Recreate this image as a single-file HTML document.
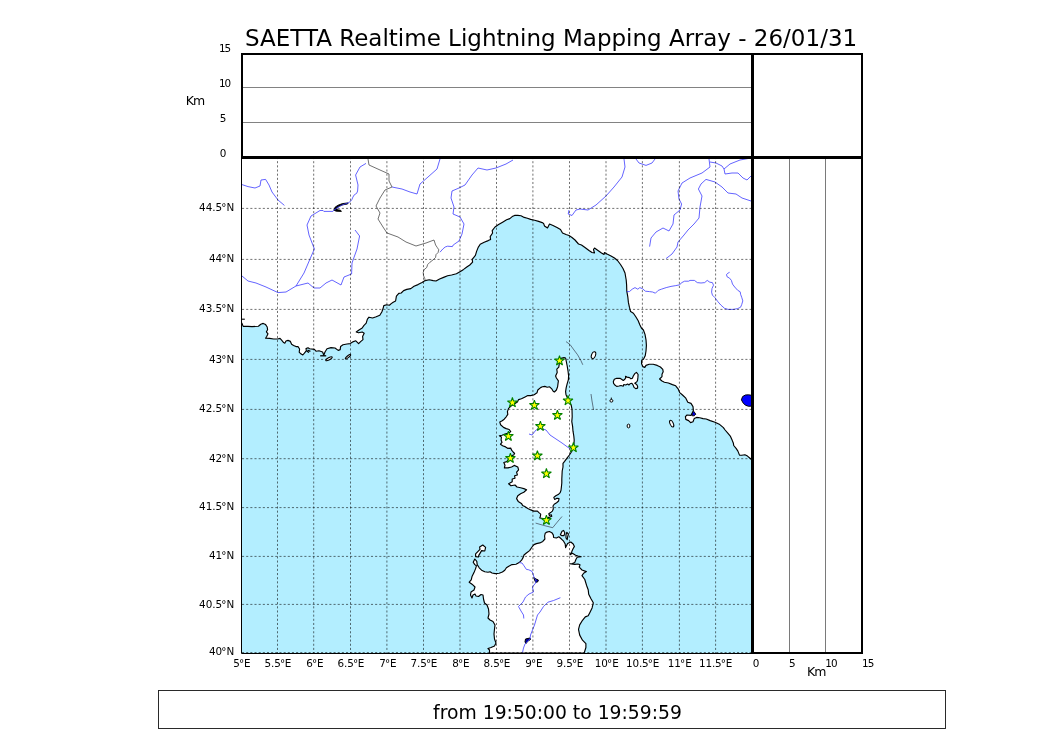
<!DOCTYPE html>
<html lang="en"><head><meta charset="utf-8"><title>SAETTA Realtime Lightning Mapping Array</title>
<style>
html,body{margin:0;padding:0;background:#fff;}
body{width:1050px;height:750px;overflow:hidden;}
svg{display:block;}
text{font-family:"DejaVu Sans","Liberation Sans",sans-serif;fill:#000;}
.t{font-size:10.4px;}
</style></head><body>
<svg width="1050" height="750" viewBox="0 0 1050 750">
<rect width="1050" height="750" fill="#fff"/>
<defs><clipPath id="mc"><rect x="242" y="157" width="510" height="496"/></clipPath></defs>

<g clip-path="url(#mc)">
<rect x="242" y="157" width="510" height="496" fill="#b3eeff"/>
<polygon points="241,322.4 242,323.4 243.2,326.4 248,326.4 252,326.6 258.4,326.2 260.8,324.2 263.2,323.4 265.6,324.6 267.2,327 267.6,329.8 266.4,331.8 268,333.8 266.8,336.2 265.6,338.2 269.6,338.4 273.6,339 277.6,339 280,338.4 281.6,340.2 283.6,342.6 284.8,343.2 286,341 288,340.4 290.4,341.4 291.6,344.2 293.6,345.4 296,346.6 298,346.6 299.6,349 299.2,352.2 300.8,353.8 302.8,355 304.8,352.6 306.4,350.6 306,348.6 308,347.8 309.6,348.8 314.4,349.4 316,351.2 319,350.8 322.6,352 323.8,355.2 325,352 327,348.8 331,347.6 335,348 338.2,350.4 340.2,349.6 340.6,346.4 343,344.8 347,344 350.2,343.6 353.4,341.6 355.8,340.8 358.6,343.6 360.6,341.6 363,339.6 362.6,336.4 364.2,333.2 362.2,332 358.6,332.8 356.2,332 359,330 362.2,328 363.8,325.6 366.2,323.2 367.4,319.2 369,317.2 372.6,318 376.2,316.8 379.8,315.2 381.8,312 383,308.8 383.8,305.6 386.6,304.8 389.4,305.2 391.5,303.4 393.2,302.2 395.6,301 396.4,296.2 398.8,293.4 401.2,293 403.6,290.6 406.8,289.4 410.8,288.6 414,286.2 418,284.6 422,282.6 425.2,280.6 429.2,279.8 433.2,280.6 436,281 439.6,279 443.6,277.4 447.6,275.8 451.6,275 456.4,273.8 460.4,271.4 463.6,269.4 466.8,267 469.8,265 472.6,262.2 472.2,259.4 475.4,255.4 476.6,251.4 478.2,247.4 480.2,244.2 484.2,242.2 488.2,240.6 490.6,239.4 490.2,236.6 492.6,233 492.2,230.6 495,227 498.6,224.6 502.6,222.2 506.6,219.8 509.8,218.6 512.2,216.6 514.6,215.4 517.8,215.4 521,215.8 524.2,217.4 527.4,218.2 530.6,219.4 534.6,220.2 538.6,221.4 542.2,222.6 543.6,223.4 544.5,226 547.5,228 549.5,224 553,225.5 557,227.5 560.5,229.5 562.5,233 566,234.5 569,235.5 572,237.5 575,240 578.5,244 581.5,245 585,247.5 589,250.5 592,252.5 594.5,253 593.5,249.5 594.5,248 598,250.5 601.5,253 604,254.5 604.5,252.5 607,254 611,256 614.5,258 617.5,260.5 620.5,264.5 623,268.5 625,273 626.2,280 626.6,284.8 626.8,291.2 627.8,296.8 628.4,302.4 629.4,307.2 630.6,311.6 633.4,313.2 635.8,316.8 638.2,320.8 639.8,324.8 641.4,328 643.4,330 645,334.4 646,339.8 646.4,345.4 646,351 645.2,355.8 643.6,359 641.6,360.6 641.6,363.8 642.8,366.6 644.8,367.4 646,365.4 649.2,364.2 653.2,364.2 657.2,365.4 660.4,367 662.8,369.4 663.2,371.8 662,374.2 662,376.6 659.6,379 662,381 664.4,382.2 668.4,383 672.4,384.6 675.7,385.8 678.1,388.8 679.7,392.6 682.5,395 685.8,398.2 687.8,402.2 691,403.4 693,406.6 693.4,410.6 692.2,413 691,415.4 687,415 685.4,416.6 685.8,419.4 688.6,420.6 690.6,422.6 693,421.8 694.2,418.6 696.6,417.4 699.8,417.8 703,418.6 706.2,419 710.2,420.6 715,422.2 719.8,424.6 723.4,427.6 725.1,430 727.8,433.2 730.5,436.4 732.1,440.1 733.4,443.3 733.7,445.5 736.1,448.4 737.9,451.1 739.5,455.1 741.7,455.3 744.9,454.8 747.5,456.1 749.7,458 753,461 752,157 242,157" fill="#fff"/>
<polyline points="241,322.4 242,323.4 243.2,326.4 248,326.4 252,326.6 258.4,326.2 260.8,324.2 263.2,323.4 265.6,324.6 267.2,327 267.6,329.8 266.4,331.8 268,333.8 266.8,336.2 265.6,338.2 269.6,338.4 273.6,339 277.6,339 280,338.4 281.6,340.2 283.6,342.6 284.8,343.2 286,341 288,340.4 290.4,341.4 291.6,344.2 293.6,345.4 296,346.6 298,346.6 299.6,349 299.2,352.2 300.8,353.8 302.8,355 304.8,352.6 306.4,350.6 306,348.6 308,347.8 309.6,348.8 314.4,349.4 316,351.2 319,350.8 322.6,352 323.8,355.2 325,352 327,348.8 331,347.6 335,348 338.2,350.4 340.2,349.6 340.6,346.4 343,344.8 347,344 350.2,343.6 353.4,341.6 355.8,340.8 358.6,343.6 360.6,341.6 363,339.6 362.6,336.4 364.2,333.2 362.2,332 358.6,332.8 356.2,332 359,330 362.2,328 363.8,325.6 366.2,323.2 367.4,319.2 369,317.2 372.6,318 376.2,316.8 379.8,315.2 381.8,312 383,308.8 383.8,305.6 386.6,304.8 389.4,305.2 391.5,303.4 393.2,302.2 395.6,301 396.4,296.2 398.8,293.4 401.2,293 403.6,290.6 406.8,289.4 410.8,288.6 414,286.2 418,284.6 422,282.6 425.2,280.6 429.2,279.8 433.2,280.6 436,281 439.6,279 443.6,277.4 447.6,275.8 451.6,275 456.4,273.8 460.4,271.4 463.6,269.4 466.8,267 469.8,265 472.6,262.2 472.2,259.4 475.4,255.4 476.6,251.4 478.2,247.4 480.2,244.2 484.2,242.2 488.2,240.6 490.6,239.4 490.2,236.6 492.6,233 492.2,230.6 495,227 498.6,224.6 502.6,222.2 506.6,219.8 509.8,218.6 512.2,216.6 514.6,215.4 517.8,215.4 521,215.8 524.2,217.4 527.4,218.2 530.6,219.4 534.6,220.2 538.6,221.4 542.2,222.6 543.6,223.4 544.5,226 547.5,228 549.5,224 553,225.5 557,227.5 560.5,229.5 562.5,233 566,234.5 569,235.5 572,237.5 575,240 578.5,244 581.5,245 585,247.5 589,250.5 592,252.5 594.5,253 593.5,249.5 594.5,248 598,250.5 601.5,253 604,254.5 604.5,252.5 607,254 611,256 614.5,258 617.5,260.5 620.5,264.5 623,268.5 625,273 626.2,280 626.6,284.8 626.8,291.2 627.8,296.8 628.4,302.4 629.4,307.2 630.6,311.6 633.4,313.2 635.8,316.8 638.2,320.8 639.8,324.8 641.4,328 643.4,330 645,334.4 646,339.8 646.4,345.4 646,351 645.2,355.8 643.6,359 641.6,360.6 641.6,363.8 642.8,366.6 644.8,367.4 646,365.4 649.2,364.2 653.2,364.2 657.2,365.4 660.4,367 662.8,369.4 663.2,371.8 662,374.2 662,376.6 659.6,379 662,381 664.4,382.2 668.4,383 672.4,384.6 675.7,385.8 678.1,388.8 679.7,392.6 682.5,395 685.8,398.2 687.8,402.2 691,403.4 693,406.6 693.4,410.6 692.2,413 691,415.4 687,415 685.4,416.6 685.8,419.4 688.6,420.6 690.6,422.6 693,421.8 694.2,418.6 696.6,417.4 699.8,417.8 703,418.6 706.2,419 710.2,420.6 715,422.2 719.8,424.6 723.4,427.6 725.1,430 727.8,433.2 730.5,436.4 732.1,440.1 733.4,443.3 733.7,445.5 736.1,448.4 737.9,451.1 739.5,455.1 741.7,455.3 744.9,454.8 747.5,456.1 749.7,458 753,461" fill="none" stroke="#000" stroke-width="1.15" stroke-linejoin="round"/>
<polygon points="564,357.6 565.6,358 566.4,362 567.2,366 568,370.8 568.6,375.6 568.4,379.6 567.2,383.6 566.2,387.6 565.6,391.6 566,394.8 567.2,397.2 569.2,401.2 571.2,405.2 572,409.2 572.2,416.8 571.8,421.6 572.6,426.4 573,431.2 573.8,436 574.2,440 573.8,446 572,451 569.4,455 567,458.2 564.6,461.4 563,463.4 563,467 562.2,471 562,475 561.8,479 561.8,483 561.4,487 561,490.2 560.2,492.6 558.2,494.6 555.8,495.8 553.8,497.4 554.6,499.4 557,498.2 559,498.6 558.6,501 556.6,502.7 554.2,504.2 553,506 553.3,509 552.4,511.1 550.6,512.6 548.8,513.8 549.4,515.6 551.2,514.7 551.8,516.2 550,517.1 548.2,517.4 546,519 541.6,518.3 539.8,518 540.4,516.2 540.7,514.1 539.2,512.9 537.4,511.1 533.8,511.1 530.8,509.9 527.8,508.4 524.8,506.6 522.6,505.4 521.4,503.4 518.2,501.4 516.6,498.6 517.8,495.8 520.6,493.8 523.8,492.2 526.6,489.8 523.8,488.6 520.6,487.8 517,487 515,485 511,485.8 508.6,483.8 512.2,481.8 512.2,479 515,478.2 514.6,475.8 517.4,475 516.6,472.2 518.6,469.8 517.8,467 514.2,465.4 511.6,467 508,467.9 504.4,467.9 505,465.2 503.8,462.5 506.8,461.6 509,458.5 511.6,455.6 513.7,455 514.6,453.5 513.1,452 511.6,450.2 510.7,448.1 508,448.4 505.6,446.9 502.6,445.7 500.5,444.2 502,442.4 501.1,440 501.4,437 499.3,435.8 502,435.2 505,434 509.2,432.8 510.7,431.6 509.2,429.5 506.2,428.6 503.5,427.4 500.6,424.8 499.8,422 502.2,420.8 504.2,419.2 506.2,416.8 507.8,414.4 507.4,411.6 508.6,408.4 511,406 514.2,404 517.4,402 518.6,399.6 521.4,398.8 524.6,397.2 527.8,395.6 530.6,395.6 534.2,394.8 537,392.8 537.8,390 540.6,387.6 542.4,386.8 544.8,386.4 547.2,387.2 549.6,386.8 552,389.2 553.2,391.2 554.4,392 556.4,390 557.6,386.8 558,383.6 558.4,380.8 556.4,378 555.6,376 557.2,372.4 556.8,369.2 558.8,367.2 559.2,364.4 560,358.6 564,357.6" fill="#fff" stroke="#000" stroke-width="1.15" stroke-linejoin="round"/>
<polygon points="474.8,559 476.8,561.4 477.2,564.6 479.2,567.8 481.6,570.2 484.8,571.8 488,572.2 490,571.8 492,573 495.2,573.6 499.2,573.2 502.4,572 504.8,570.2 506.4,567.8 508.8,566.2 512,564.6 516,564.2 519.2,562.6 521.6,560.2 523.2,557.4 524,555 526.4,553 529.6,550.6 532,547 534,544.6 536.4,543.6 539.8,542.9 542.8,541.4 544.9,539 544.6,536 545.2,533.3 547,532.1 549.4,531.5 551.8,532.7 553.3,534.8 553.6,537.5 556.4,538 558.8,536.8 561.2,538.8 563.6,541.2 565.2,544 565.6,547.6 567.6,543.6 570.8,542 573.2,544 574.4,546.4 572.8,549.2 571.6,552 570,554.8 572.4,553.2 575.6,555.2 578,556 581.2,556.8 577.2,557.2 576,559.2 574.8,562.4 572.4,563.6 569.6,563.8 574.8,564.4 578,564 580,564.8 579.2,567.2 582,570 586.4,571.6 583.6,573.2 582,575.6 584.8,579.5 586.5,585.2 588.2,589.7 588.7,594.3 591,598.8 593.3,602.8 592.1,607.9 589.9,612.4 588.2,615.8 585.3,616.9 582.5,620.3 579.7,624.9 578.5,629.4 579.7,635.1 582.5,640.2 585.9,643.6 585.9,647.5 584.2,653 489.5,653 489.5,650 488,648.5 491,647.5 494.5,646 496,643 494.5,639 494,634 494.5,629 495,625 493,621.5 490,620 488,618 489,614 488.5,609 487,605 484.5,603 483.5,599 483,595 481,594.5 478.5,596.5 476,596 475,594 473,595 472,598 470.5,595 471,592 474,590 475,587 472,584.2 469.2,582.2 471.2,579.8 472,576.6 474,572.6 475.6,568.6 476.4,565.8 474.8,564.6 473.2,562.2" fill="#fff" stroke="#000" stroke-width="1.15" stroke-linejoin="round"/>
<polygon points="613.3,381.7 614.3,379.3 616.7,378.3 620,378.3 621.9,379.5 623.3,380.5 624.8,379.3 625.7,377.9 625.5,376.4 627.1,377.1 629.5,377.6 631,378.8 632.4,378.3 633.3,376 634.8,373.6 636.4,372.4 638.1,374.5 637.9,377.4 637.6,380.2 636.7,381.9 634.8,383.3 636.7,384.5 637.6,386.2 637.6,388.1 635.7,388.6 634,387.4 633.1,385 631.9,383.3 630,383.8 629,385 627.6,384 625.7,385 623.8,384.5 623.3,386.2 621,385.5 619,386 616.7,386.4 614.8,385 613.6,383.3" fill="#fff" stroke="#000" stroke-width="1.15" stroke-linejoin="round"/>
<polygon points="479.6,547 482.8,545 485.6,547.4 484.8,551 481.6,550.6 478.8,555.4 478.4,557 475.6,556.6 475.6,553.8 480,549.4" fill="#fff" stroke="#000" stroke-width="1.15" stroke-linejoin="round"/>
<polygon points="560.4,534.8 562,531.2 563.6,530.4 564.8,532.8 564,535.6 561.6,535.6" fill="#fff" stroke="#000" stroke-width="1.15" stroke-linejoin="round"/>
<polygon points="566,534.8 566.8,532.4 568.4,534 567.6,537.2 567.2,539.6 566,538" fill="#fff" stroke="#000" stroke-width="1.15" stroke-linejoin="round"/>
<ellipse cx="593.5" cy="355.2" rx="2" ry="3.6" transform="rotate(20 593.5 355.2)" fill="#fff" stroke="#000" stroke-width="1"/>
<path d="M611.3,397.6 v1.6 M609.9,400.8 a1.5,1.3 0 1 0 3,0 a1.5,1.3 0 1 0 -3,0" fill="#fff" stroke="#000" stroke-width="1"/>
<ellipse cx="628.5" cy="426" rx="1.4" ry="1.9" fill="#fff" stroke="#000" stroke-width="1"/>
<ellipse cx="671.7" cy="423.7" rx="1.6" ry="3.6" transform="rotate(-25 671.7 423.7)" fill="#fff" stroke="#000" stroke-width="1"/>
<ellipse cx="329" cy="358.7" rx="3.6" ry="1.1" transform="rotate(-28 329 358.7)" fill="#fff" stroke="#000" stroke-width="1.1"/>
<ellipse cx="348" cy="356.7" rx="3.4" ry="0.9" transform="rotate(-40 348 356.7)" fill="#fff" stroke="#000" stroke-width="1.1"/>
<path d="M320.2,355.8 H326.2" stroke="#000" stroke-width="1.3"/><path d="M306.6,351 L309,352.6 M307.5,350 L310.4,351.4" stroke="#000" stroke-width="1.2"/><path d="M241.6,319.2 H244.8" stroke="#000" stroke-width="1.1"/>
<path d="M741.4,399.8 L742.6,396.6 L745.4,395 L748.6,394.8 L753,395.6 V406 L748.6,406.3 L745.4,405.2 L743,402.8Z" fill="#0000ff" stroke="#000" stroke-width="1" stroke-linejoin="round"/>
<path d="M692.2,413 L693.8,411.4 L695.8,414.2 L694.2,415.8 L692.2,415.8Z" fill="#0000e0" stroke="#000" stroke-width="0.9"/>
<path d="M348.1,202.9 L342.4,203.6 L338.1,205.2 L335.2,207.1 L333.8,210.2 L336.2,211.2 L341.4,211.4 L340.5,210.2 L337.6,209.8 L336.7,208.6 L339,206.2 L342.9,204.8 L347.6,204Z" fill="#000" stroke="#000" stroke-width="0.9" stroke-linejoin="round"/><path d="M335.4,209.6 L337.6,206.6" stroke="#0000d0" stroke-width="0.8" stroke-dasharray="0.9 0.8"/>
<path d="M533.8,577.6 L536,579 L538.4,580 L537.6,582 L535.6,582.2 L534.6,580Z" fill="#0000c0" stroke="#000" stroke-width="1"/>
<path d="M525.5,639 L530,638 L530.5,639.5 L528,641 L526,643.5 L525,642Z" fill="#0000a0" stroke="#000" stroke-width="1"/>
<polyline points="242,184.6 248,186.6 255,188 260,186 261,180 265.6,179.4 269,185 272,192 278,200 284.4,205.4" fill="none" stroke="#3c3cff" stroke-width="0.8" stroke-linejoin="round"/>
<polyline points="366,163.4 360,167 355.6,175 358,185 357.6,191 356.7,193.3 354.3,194.8 352.9,197.1 351.9,199.5 350.5,201.4 348.1,202.9 342,205 337,208 333.8,210.2 332.9,211.4 323.8,211.4 323.1,210.5 320,210.5 311,216 307,225 309,235 314.4,249 310,259 304,273 296,286 286,292 278,292.6 266,287 256,283 248,281 242,276" fill="none" stroke="#3c3cff" stroke-width="0.8" stroke-linejoin="round"/>
<polyline points="355,230 359.6,236 357,249 352,263 351.6,274 344,277 341,285 332,280 326,283 320,288 314,288 308,283 296,286" fill="none" stroke="#3c3cff" stroke-width="0.8" stroke-linejoin="round"/>
<polyline points="440,159 437,169 428,177 420,184 417,194 410,192 402,189 392,187" fill="none" stroke="#3c3cff" stroke-width="0.8" stroke-linejoin="round"/>
<polyline points="513,160 506,164 496,168 487,170 478,168 472,175 465,185 459,188 452,191 451,198 454,207 453,214 460,217 464,224 462,234 459,241 453.2,245 452.4,246.6 447.6,246.2 445.2,247 442.8,249 440,252.2" fill="none" stroke="#3c3cff" stroke-width="0.8" stroke-linejoin="round"/>
<polyline points="624,159 625,167 622,177 614,187 606,196 596,205 588,210 580,209 576,210 574.5,212 572,215.5 568.2,214 569,210" fill="none" stroke="#3c3cff" stroke-width="0.8" stroke-linejoin="round"/>
<polyline points="636,159 639,163 646,165.4 652,163 655,159" fill="none" stroke="#3c3cff" stroke-width="0.8" stroke-linejoin="round"/>
<polyline points="709,159 710,167 702,173 690,178 682,183 678,191 679,199 681.6,204 680,210 674,215 673,224 669,231 663,228 656,232 651,238 649.6,246.6" fill="none" stroke="#3c3cff" stroke-width="0.8" stroke-linejoin="round"/>
<polyline points="751,201 742,198 736,194 728,193 722,187 715,182 706,179.4 701,184 698.4,189 702,196 700,207 699,218 694,224 688,230 684,235 678,242 677,247 672,254 666,258.6" fill="none" stroke="#3c3cff" stroke-width="0.8" stroke-linejoin="round"/>
<polyline points="710,162 716,163 722,166 724,169 730,164 740,160 751,158" fill="none" stroke="#3c3cff" stroke-width="0.8" stroke-linejoin="round"/>
<polyline points="724,169 725,174 732,173 738,173 743,178 747,180 751,176" fill="none" stroke="#3c3cff" stroke-width="0.8" stroke-linejoin="round"/>
<polyline points="626.8,291.6 629.4,291.6 632.2,289.2 635,287.6 637.8,289.2 639.8,287.6 642.6,288.8 645.4,291.2 649.4,291.6 652.6,292 655.4,293.2 658.2,290.4 661.4,289.2 666.2,287.6 671,286.4 675.8,285.6 679.8,284.8 681.4,282.8 684.6,281.2 688.6,281.2 690,280.4 694.4,280.4 697.3,282.6 701,283 704.7,282.6 707.2,280.4 709.8,282.2 712.4,282.6 713.5,285.2 712,288.5 711.6,292.1 712.4,295.1 714.9,297.6 717.9,301.7 720.8,305 724.5,308.3 728.1,309.4 733.3,309.4 737.7,308.6 740.6,307.2 741.7,304.6 742.8,300.9 741.7,297.3 740.6,294.3 740.2,291.8 737.7,290.3 734.7,287 732.5,284.1 731.4,280.4 729.6,278.2 727,276.7 726.5,274.5 728.1,273.1 729.6,272.3" fill="none" stroke="#3c3cff" stroke-width="0.8" stroke-linejoin="round"/>
<polyline points="529,434 532,435 536,430 540,428 546,430 550,435 556,439 562,443 568,447.4 571,449" fill="none" stroke="#3c3cff" stroke-width="0.8" stroke-linejoin="round"/>
<polyline points="519.2,562.6 522,563 524,565.8 526.4,569.4 528.8,569.8 532,571.4 533.2,574.2 534,577.4 536,580 535.6,583 532.4,587 533.5,592 529,594 525.5,597 523,602 518.5,606.5 521,611 523.5,615 523.8,618.5" fill="none" stroke="#3c3cff" stroke-width="0.8" stroke-linejoin="round"/>
<polyline points="560.4,597.7 553.6,600.5 547.9,602.2 543.4,606.7 540,612 537.5,615 536,620 534.5,625 532.5,630 530.5,635 530,639 527,642 525,644 523.5,648 522.5,652.5" fill="none" stroke="#3c3cff" stroke-width="0.8" stroke-linejoin="round"/>
<polyline points="368,159 369,165 380,170 389,174 389,181 392,187 385,190 380,198 376,206 380,213 378,219 383,227 387,233 398,237 406,242 416,246 426,243 434,240 435.6,245 437.2,247.4 438.8,249.8 438,252.6 436,254.6 435.6,257.4 433.2,259.8 430,262.2 427.6,264.6 426.8,267.4 424,269.8 423.2,272.6 423.6,275.8 424.8,278.6 425.2,280.6" fill="none" stroke="#333" stroke-width="0.7" stroke-linejoin="round"/>
<polyline points="566,341.6 570,344.5 574,350 577.6,354.8 580.8,360.4 582.8,364.8" fill="none" stroke="#223" stroke-width="0.6"/>
<polyline points="591,394 592,401 593.6,410" fill="none" stroke="#223" stroke-width="0.6"/>
<polyline points="535.6,523.1 544,525.5 552.7,527.7 557.2,522.2 562,516.5" fill="none" stroke="#223" stroke-width="0.6"/>
<path d="M277.5,157V653 M313.7,157V653 M350.5,157V653 M386.9,157V653 M423.5,157V653 M460.0,157V653 M496.5,157V653 M532.9,157V653 M569.5,157V653 M606.0,157V653 M642.4,157V653 M679.4,157V653 M715.6,157V653 M242,652.5H752 M242,604.4H752 M242,556.4H752 M242,507.59999999999997H752 M242,458.7H752 M242,409.4H752 M242,359.4H752 M242,309.4H752 M242,259.4H752 M242,208.4H752" fill="none" stroke="#000" stroke-opacity="0.56" stroke-width="1" stroke-dasharray="2.08 2.08"/>
<path d="M559.50,355.55 L560.67,359.14 L564.45,359.14 L561.39,361.36 L562.56,364.96 L559.50,362.74 L556.44,364.96 L557.61,361.36 L554.55,359.14 L558.33,359.14Z" fill="#ffff00" stroke="#008000" stroke-width="1.04" stroke-linejoin="bevel"/>
<path d="M512.40,397.45 L513.57,401.04 L517.35,401.04 L514.29,403.26 L515.46,406.86 L512.40,404.64 L509.34,406.86 L510.51,403.26 L507.45,401.04 L511.23,401.04Z" fill="#ffff00" stroke="#008000" stroke-width="1.04" stroke-linejoin="bevel"/>
<path d="M534.40,400.05 L535.57,403.64 L539.35,403.64 L536.29,405.86 L537.46,409.46 L534.40,407.24 L531.34,409.46 L532.51,405.86 L529.45,403.64 L533.23,403.64Z" fill="#ffff00" stroke="#008000" stroke-width="1.04" stroke-linejoin="bevel"/>
<path d="M568.00,395.45 L569.17,399.04 L572.95,399.04 L569.89,401.26 L571.06,404.86 L568.00,402.64 L564.94,404.86 L566.11,401.26 L563.05,399.04 L566.83,399.04Z" fill="#ffff00" stroke="#008000" stroke-width="1.04" stroke-linejoin="bevel"/>
<path d="M557.40,410.05 L558.57,413.64 L562.35,413.64 L559.29,415.86 L560.46,419.46 L557.40,417.24 L554.34,419.46 L555.51,415.86 L552.45,413.64 L556.23,413.64Z" fill="#ffff00" stroke="#008000" stroke-width="1.04" stroke-linejoin="bevel"/>
<path d="M540.40,421.05 L541.57,424.64 L545.35,424.64 L542.29,426.86 L543.46,430.46 L540.40,428.24 L537.34,430.46 L538.51,426.86 L535.45,424.64 L539.23,424.64Z" fill="#ffff00" stroke="#008000" stroke-width="1.04" stroke-linejoin="bevel"/>
<path d="M508.40,431.05 L509.57,434.64 L513.35,434.64 L510.29,436.86 L511.46,440.46 L508.40,438.24 L505.34,440.46 L506.51,436.86 L503.45,434.64 L507.23,434.64Z" fill="#ffff00" stroke="#008000" stroke-width="1.04" stroke-linejoin="bevel"/>
<path d="M573.40,442.45 L574.57,446.04 L578.35,446.04 L575.29,448.26 L576.46,451.86 L573.40,449.64 L570.34,451.86 L571.51,448.26 L568.45,446.04 L572.23,446.04Z" fill="#ffff00" stroke="#008000" stroke-width="1.04" stroke-linejoin="bevel"/>
<path d="M510.40,453.05 L511.57,456.64 L515.35,456.64 L512.29,458.86 L513.46,462.46 L510.40,460.24 L507.34,462.46 L508.51,458.86 L505.45,456.64 L509.23,456.64Z" fill="#ffff00" stroke="#008000" stroke-width="1.04" stroke-linejoin="bevel"/>
<path d="M537.40,450.55 L538.57,454.14 L542.35,454.14 L539.29,456.36 L540.46,459.96 L537.40,457.74 L534.34,459.96 L535.51,456.36 L532.45,454.14 L536.23,454.14Z" fill="#ffff00" stroke="#008000" stroke-width="1.04" stroke-linejoin="bevel"/>
<path d="M546.40,468.45 L547.57,472.04 L551.35,472.04 L548.29,474.26 L549.46,477.86 L546.40,475.64 L543.34,477.86 L544.51,474.26 L541.45,472.04 L545.23,472.04Z" fill="#ffff00" stroke="#008000" stroke-width="1.04" stroke-linejoin="bevel"/>
<path d="M546.40,515.05 L547.57,518.64 L551.35,518.64 L548.29,520.86 L549.46,524.46 L546.40,522.24 L543.34,524.46 L544.51,520.86 L541.45,518.64 L545.23,518.64Z" fill="#ffff00" stroke="#008000" stroke-width="1.04" stroke-linejoin="bevel"/>
</g>
<path d="M789.5,157V653 M825.5,157V653" stroke="#000" stroke-opacity="0.75" stroke-width="0.7" fill="none"/>
<path d="M242,87.5H752 M242,122.5H752" stroke="#000" stroke-opacity="0.7" stroke-width="0.7" fill="none"/>
<path d="M241.5,157V653.5H752" stroke="#000" stroke-width="1" fill="none"/>
<path d="M241,54H863 M242,53V159 M862,53V654 M751,653H863" stroke="#000" stroke-width="2" fill="none"/>
<path d="M752.5,53V654 M241,157.5H863" stroke="#000" stroke-width="3" fill="none"/>
<text x="551.1" y="45.5" font-size="23" text-anchor="middle">SAETTA Realtime Lightning Mapping Array - 26/01/31</text>
<text class="t" x="218.9" y="52" letter-spacing="-0.9">15</text>
<text class="t" x="218.9" y="87" letter-spacing="-0.9">10</text>
<text class="t" x="219.8" y="122">5</text>
<text class="t" x="219.8" y="157">0</text>
<text x="185.8" y="104.5" letter-spacing="-0.9" style="font-size:12.5px">Km</text>
<text class="t" x="234.2" y="655.3" text-anchor="end">40<tspan dx="-0.85">°</tspan><tspan dx="-0.15">N</tspan></text>
<text class="t" x="234.2" y="608.0" text-anchor="end">40.5<tspan dx="-0.85">°</tspan><tspan dx="-0.15">N</tspan></text>
<text class="t" x="234.2" y="559.0" text-anchor="end">41<tspan dx="-0.85">°</tspan><tspan dx="-0.15">N</tspan></text>
<text class="t" x="234.2" y="510.0" text-anchor="end">41.5<tspan dx="-0.85">°</tspan><tspan dx="-0.15">N</tspan></text>
<text class="t" x="234.2" y="462.0" text-anchor="end">42<tspan dx="-0.85">°</tspan><tspan dx="-0.15">N</tspan></text>
<text class="t" x="234.2" y="412.0" text-anchor="end">42.5<tspan dx="-0.85">°</tspan><tspan dx="-0.15">N</tspan></text>
<text class="t" x="234.2" y="363.0" text-anchor="end">43<tspan dx="-0.85">°</tspan><tspan dx="-0.15">N</tspan></text>
<text class="t" x="234.2" y="312.0" text-anchor="end">43.5<tspan dx="-0.85">°</tspan><tspan dx="-0.15">N</tspan></text>
<text class="t" x="234.2" y="262.0" text-anchor="end">44<tspan dx="-0.85">°</tspan><tspan dx="-0.15">N</tspan></text>
<text class="t" x="234.2" y="211.0" text-anchor="end">44.5<tspan dx="-0.85">°</tspan><tspan dx="-0.15">N</tspan></text>
<text class="t" x="241.85" y="667" text-anchor="middle">5<tspan dx="-0.85">°</tspan><tspan dx="-0.15">E</tspan></text>
<text class="t" x="277.95" y="667" text-anchor="middle" letter-spacing="-0.12">5.5<tspan dx="-0.85">°</tspan><tspan dx="-0.15">E</tspan></text>
<text class="t" x="314.85" y="667" text-anchor="middle">6<tspan dx="-0.85">°</tspan><tspan dx="-0.15">E</tspan></text>
<text class="t" x="350.95" y="667" text-anchor="middle" letter-spacing="-0.12">6.5<tspan dx="-0.85">°</tspan><tspan dx="-0.15">E</tspan></text>
<text class="t" x="387.85" y="667" text-anchor="middle">7<tspan dx="-0.85">°</tspan><tspan dx="-0.15">E</tspan></text>
<text class="t" x="423.95" y="667" text-anchor="middle" letter-spacing="-0.12">7.5<tspan dx="-0.85">°</tspan><tspan dx="-0.15">E</tspan></text>
<text class="t" x="460.85" y="667" text-anchor="middle">8<tspan dx="-0.85">°</tspan><tspan dx="-0.15">E</tspan></text>
<text class="t" x="496.95" y="667" text-anchor="middle" letter-spacing="-0.12">8.5<tspan dx="-0.85">°</tspan><tspan dx="-0.15">E</tspan></text>
<text class="t" x="533.85" y="667" text-anchor="middle">9<tspan dx="-0.85">°</tspan><tspan dx="-0.15">E</tspan></text>
<text class="t" x="569.95" y="667" text-anchor="middle" letter-spacing="-0.12">9.5<tspan dx="-0.85">°</tspan><tspan dx="-0.15">E</tspan></text>
<text class="t" x="606.70" y="667" text-anchor="middle">10<tspan dx="-0.85">°</tspan><tspan dx="-0.15">E</tspan></text>
<text class="t" x="642.50" y="667" text-anchor="middle" letter-spacing="-0.12">10.5<tspan dx="-0.85">°</tspan><tspan dx="-0.15">E</tspan></text>
<text class="t" x="679.70" y="667" text-anchor="middle">11<tspan dx="-0.85">°</tspan><tspan dx="-0.15">E</tspan></text>
<text class="t" x="715.50" y="667" text-anchor="middle" letter-spacing="-0.12">11.5<tspan dx="-0.85">°</tspan><tspan dx="-0.15">E</tspan></text>
<text class="t" x="752.7" y="667">0</text>
<text class="t" x="789.0" y="667">5</text>
<text class="t" x="825.2" y="667" letter-spacing="-0.9">10</text>
<text class="t" x="862.0" y="667" letter-spacing="-0.9">15</text>
<text x="807" y="676" letter-spacing="-0.9" style="font-size:12.5px">Km</text>
<rect x="158.5" y="690.5" width="787" height="38" fill="#fff" stroke="#000" stroke-opacity="0.88" stroke-width="0.95"/>
<text x="557.5" y="719" font-size="18.75" text-anchor="middle">from 19:50:00 to 19:59:59</text>
</svg></body></html>
